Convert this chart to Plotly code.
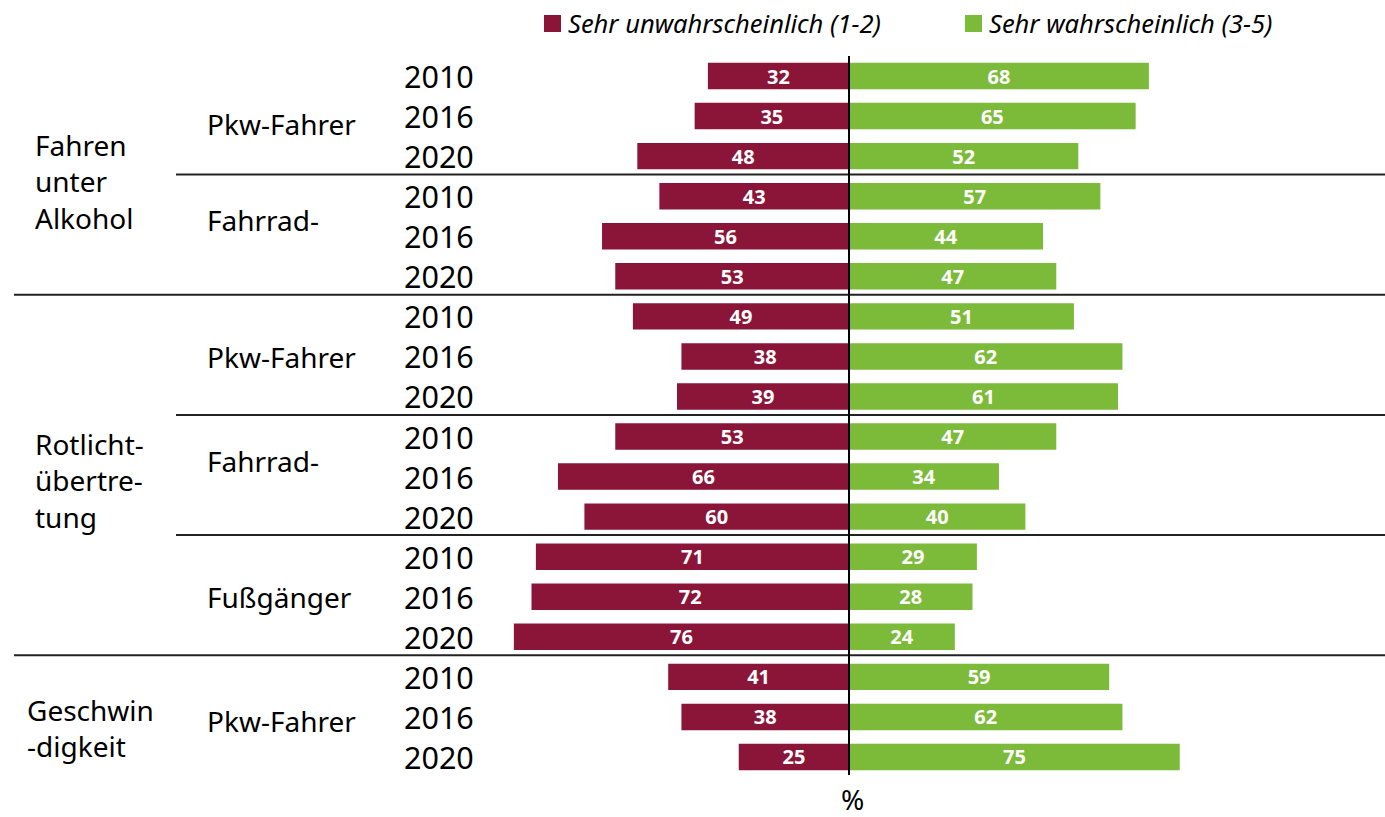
import plotly.graph_objects as go

# ---------------- data ----------------
years = ["2010", "2016", "2020"] * 6
unlikely = [32, 35, 48, 43, 56, 53, 49, 38, 39, 53, 66, 60, 71, 72, 76, 41, 38, 25]
likely = [68, 65, 52, 57, 44, 47, 51, 62, 61, 47, 34, 40, 29, 28, 24, 59, 62, 75]
group_labels = ["Fahren<br>unter<br>Alkohol", "Rotlicht-<br>übertre-<br>tung", "Geschwin<br>-digkeit"]
subgroup_labels = ["Pkw-Fahrer", "Fahrrad-", "Pkw-Fahrer", "Fahrrad-", "Fußgänger", "Pkw-Fahrer"]
series_names = ["Sehr unwahrscheinlich (1-2)", "Sehr wahrscheinlich (3-5)"]
axis_label = "%"

# ---------------- layout geometry ----------------
W, H = 1385, 817
MT, MB = 56, 40
PLOT_H = H - MT - MB
N = len(years)
ROW = PLOT_H / N
CENTER_PX = 849
K = 4.41  # px per percent
XMIN = -CENTER_PX / K
XMAX = (W - CENTER_PX) / K

MAROON = "#8A1538"
GREEN = "#7CBA3A"
FONT = "Noto Sans"


def py2row(py):
    return (py - MT) / ROW - 0.5


def px2paper(px):
    return px / W


def py2paper(py):
    return (H - MB - py) / PLOT_H


rows = list(range(N))

fig = go.Figure()
fig.add_trace(go.Bar(
    y=rows, x=[-v for v in unlikely], orientation="h", name=series_names[0],
    marker=dict(color=MAROON, line=dict(width=0)), width=0.66,
    text=[str(v) for v in unlikely], textposition="inside", insidetextanchor="middle",
    textangle=0, textfont=dict(family=FONT, size=20, color="white", weight="bold"),
    constraintext="none", hoverinfo="skip",
))
fig.add_trace(go.Bar(
    y=rows, x=likely, orientation="h", name=series_names[1],
    marker=dict(color=GREEN, line=dict(width=0)), width=0.66,
    text=[str(v) for v in likely], textposition="inside", insidetextanchor="middle",
    textangle=0, textfont=dict(family=FONT, size=20, color="white", weight="bold"),
    constraintext="none", hoverinfo="skip",
))

shapes = []
# center axis line
shapes.append(dict(type="line", xref="x", yref="y", x0=0, x1=0,
                   y0=py2row(46), y1=py2row(775),
                   line=dict(color="black", width=2), layer="above"))
# separators (group and subgroup)
for r in [2, 8, 11]:
    yy = r + 0.46
    shapes.append(dict(type="line", xref="paper", yref="y", x0=px2paper(176), x1=1,
                       y0=yy, y1=yy, line=dict(color="#222222", width=2), layer="below"))
for r in [5, 14]:
    yy = r + 0.46
    shapes.append(dict(type="line", xref="paper", yref="y", x0=px2paper(14), x1=1,
                       y0=yy, y1=yy, line=dict(color="#222222", width=2), layer="below"))
# legend swatches
for x0, col in [(544, MAROON), (965, GREEN)]:
    shapes.append(dict(type="rect", xref="paper", yref="paper",
                       x0=px2paper(x0), x1=px2paper(x0 + 17),
                       y0=py2paper(32), y1=py2paper(15),
                       fillcolor=col, line=dict(width=0)))

annotations = []
# year labels
for i, yv in enumerate(years):
    annotations.append(dict(text=yv, xref="paper", yref="y", x=px2paper(476), y=i,
                            xanchor="right", yanchor="middle", showarrow=False,
                            font=dict(family=FONT, size=30.5, color="black")))
# subgroup labels
sub_py = [124, 220, 357, 461, 597, 721]
for lab, py in zip(subgroup_labels, sub_py):
    annotations.append(dict(text=lab, xref="paper", yref="y", x=px2paper(205), y=py2row(py),
                            xanchor="left", yanchor="middle", showarrow=False,
                            font=dict(family=FONT, size=28, color="black")))
# group labels
grp = [(33, 181), (33, 480), (25, 728)]
for lab, (px, py) in zip(group_labels, grp):
    annotations.append(dict(text=lab, xref="paper", yref="y", x=px2paper(px), y=py2row(py),
                            xanchor="left", yanchor="middle", align="left", showarrow=False,
                            font=dict(family=FONT, size=28, color="black")))
# legend texts
for tx, px in [(series_names[0], 566), (series_names[1], 987)]:
    annotations.append(dict(text="<i>" + tx + "</i>", xref="paper", yref="paper",
                            x=px2paper(px), y=py2paper(23), xanchor="left", yanchor="middle",
                            showarrow=False, font=dict(family=FONT, size=25.5, color="black")))
# axis unit
annotations.append(dict(text=axis_label, xref="x", yref="paper", x=0.8, y=py2paper(799),
                        xanchor="center", yanchor="middle", showarrow=False,
                        font=dict(family=FONT, size=28, color="black")))

fig.update_layout(
    width=W, height=H,
    margin=dict(l=0, r=0, t=MT, b=MB, pad=0),
    barmode="relative",
    plot_bgcolor="white", paper_bgcolor="white",
    showlegend=False,
    xaxis=dict(range=[XMIN, XMAX], visible=False, fixedrange=True),
    yaxis=dict(range=[N - 0.5, -0.5], visible=False, fixedrange=True),
    shapes=shapes, annotations=annotations,
    hovermode=False,
    font=dict(family=FONT),
)

fig.write_html(
    "out.html",
    config={"displayModeBar": False},
    post_script="document.body.style.margin='0';document.body.style.padding='0';document.body.style.overflow='hidden';",
)
